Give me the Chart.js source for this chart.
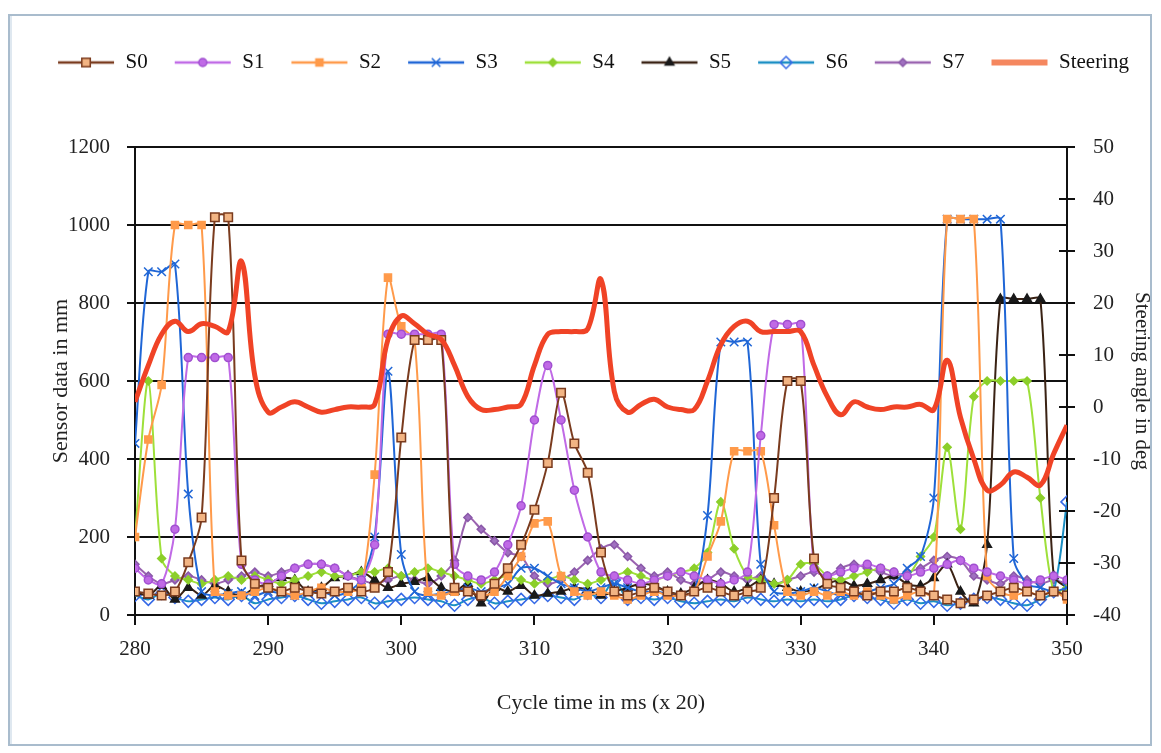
<!DOCTYPE html>
<html>
<head>
<meta charset="utf-8">
<script src="https://cdn.jsdelivr.net/npm/chart.js@4.4.0/dist/chart.umd.min.js"></script>
<style>
  html, body { margin: 0; padding: 0; background: #fff; }
  #wrap { position: relative; width: 1161px; height: 753px; }
  #frame { position: absolute; left: 8px; top: 14px; width: 1140px; height: 728px;
           border: 2px solid #a9bccd; box-shadow: inset 2px 0 0 #dfe8f0; }
  canvas { position: absolute; left: 0; top: 0; }
</style>
</head>
<body>
<div id="wrap">
  <div id="frame"></div>
  <canvas id="chart" width="1161" height="753"></canvas>
</div>
<script>
// cycle index (x 20 ms)
const cycles = [280,281,282,283,284,285,286,287,288,289,290,291,292,293,294,295,296,297,298,299,
  300,301,302,303,304,305,306,307,308,309,310,311,312,313,314,315,316,317,318,319,
  320,321,322,323,324,325,326,327,328,329,330,331,332,333,334,335,336,337,338,339,
  340,341,342,343,344,345,346,347,348,349,350];

const s0 = [60,55,50,60,135,250,1020,1020,140,80, 70,60,70,60,55,60,70,60,70,110,
  455,705,705,705,70,60,50,80,120,180, 270,390,570,440,365,160,60,50,60,70,
  60,50,60,70,60,50,60,70,300,600, 600,145,80,70,60,50,60,60,70,60,
  50,40,30,40,50,60,70,60,50,60, 50];
const s1 = [120,90,80,220,660,660,660,660,130,90, 80,100,120,130,130,120,100,90,180,720,
  720,720,720,720,130,100,90,110,180,280, 500,640,500,320,200,110,100,90,80,90,
  100,110,100,90,80,90,110,460,745,745, 745,120,100,110,120,130,120,110,100,110,
  120,130,140,120,110,100,90,80,90,100, 90];
const s2 = [200,450,590,1000,1000,1000,60,50,50,60, 70,60,50,60,70,60,60,70,360,865,
  740,705,60,50,60,60,50,60,100,150, 235,240,100,60,50,60,50,40,50,60,
  50,50,60,150,240,420,420,420,230,60, 50,60,50,60,50,60,50,40,50,60,
  50,1015,1015,1015,100,60,50,60,50,60, 40];
const s3 = [440,880,880,900,310,60,50,55,60,50, 60,55,50,55,60,50,60,90,200,625,
  155,60,50,55,60,70,60,70,80,120, 120,100,80,70,60,70,80,70,60,60,
  55,50,60,255,700,700,700,130,60,55, 60,70,60,50,55,60,70,80,120,150,
  300,1015,1015,1015,1015,1015,145,80,70,60, 70];
const s4 = [200,600,145,100,90,80,90,100,90,100, 90,80,90,100,110,100,100,110,110,120,
  100,110,120,110,100,90,80,90,100,90, 80,90,100,90,80,90,100,110,100,90,
  100,110,120,160,290,170,100,90,80,90, 130,130,100,90,100,110,120,110,100,150,
  200,430,220,560,600,600,600,600,300,60, 70];
const s5 = [60,50,75,40,70,50,75,60,50,70, 80,95,90,60,70,95,100,110,90,70,
  80,85,95,70,60,80,30,70,60,75, 50,55,60,70,65,50,60,70,80,75,
  60,55,70,90,80,60,70,90,80,70, 60,65,80,90,75,80,90,100,80,75,
  95,130,60,30,180,810,810,810,810,100, 70];
const s6 = [50,40,55,45,35,40,45,40,50,30, 40,45,50,40,30,35,40,45,30,35,
  40,45,40,35,25,40,45,30,35,40, 45,50,45,40,55,45,90,40,45,40,
  45,35,30,35,40,35,45,40,35,40, 35,40,35,40,50,45,40,30,40,30,
  35,25,30,40,45,40,30,25,40,60, 290];
const s7 = [130,100,80,90,100,90,80,90,100,110, 100,110,120,130,130,120,100,90,80,90,
  100,90,80,100,140,250,220,190,160,150, 100,80,90,110,140,170,180,150,120,100,
  110,90,80,90,110,100,90,100,80,90, 100,110,100,120,130,120,110,100,110,120,
  140,150,140,100,90,80,100,90,80,90, 80];
// steering angle in deg (right axis)
const steering = [1,8,14,16.5,14.5,16,15.5,14.5,28,6, -1,0,1,0,-1,-0.5,0,0,0.5,13,
  17.5,16,14,13,8,2,-0.5,-0.5,0,0.5, 8,14,14.5,14.5,15,24.5,3,-1,0.5,1.5,
  0,-0.5,-0.5,5,12,15.5,16.5,14.5,14.5,14.5, 14.5,8,2,-1.5,1,0,-0.5,0,0,0.5,
  -0.5,9,-2,-10,-16,-15,-12.5,-13.5,-15,-9, -3.5];

const serif = 'Liberation Serif, Times New Roman, serif';

function pts(arr) {
  return arr.map((v, i) => ({ x: cycles[i], y: v }));
}

function legendIcon(color, style, fill, stroke, radius) {
  const c = document.createElement('canvas');
  c.width = 58; c.height = 18;
  const ctx = c.getContext('2d');
  ctx.strokeStyle = color;
  ctx.lineWidth = style ? 2.5 : 6;
  ctx.beginPath(); ctx.moveTo(1, 9); ctx.lineTo(57, 9); ctx.stroke();
  if (style) {
    ctx.fillStyle = fill;
    ctx.strokeStyle = stroke;
    ctx.lineWidth = 1.5;
    Chart.helpers.drawPoint(ctx, { pointStyle: style, radius: radius, borderWidth: 1.5, rotation: 0 }, 29, 9);
  }
  return c;
}

function sensor(label, data, color, style, fill, stroke, radius) {
  return {
    label, data: pts(data), yAxisID: 'y',
    borderColor: color, backgroundColor: fill, borderWidth: 2,
    pointStyle: style, pointRadius: radius, pointBackgroundColor: fill,
    pointBorderColor: stroke, pointBorderWidth: 1.5,
    tension: 0.3, order: 1,
    legendIcon: legendIcon(color, style, fill, stroke, radius)
  };
}

const datasets = [
  sensor('S0', s0, '#7a3b1e', 'rect', '#f2b483', '#7a3b1e', 6),
  sensor('S1', s1, '#c06ae6', 'circle', '#c06ae6', '#a04fd0', 4),
  sensor('S2', s2, '#ff9a4a', 'rect', '#ff9a4a', '#ff9a4a', 5),
  sensor('S3', s3, '#1f66d6', 'crossRot', '#1f66d6', '#1f66d6', 6),
  sensor('S4', s4, '#9ee03a', 'rectRot', '#8ccf2a', '#8ccf2a', 4),
  sensor('S5', s5, '#3a2214', 'triangle', '#1a1a1a', '#1a1a1a', 5),
  sensor('S6', s6, '#1b8fc4', 'rectRot', 'rgba(255,255,255,0)', '#3569e6', 6),
  sensor('S7', s7, '#9a63b0', 'rectRot', '#a070c0', '#8a58a8', 4),
  {
    label: 'Steering', data: pts(steering), yAxisID: 'y2',
    borderColor: '#f04326', backgroundColor: '#f04326', borderWidth: 5,
    pointRadius: 0, tension: 0.4, order: 0,
    legendIcon: legendIcon('#f5875f', null)
  }
];

// tick marks on the right axis cross the axis line
const crossTicks = {
  id: 'crossTicks',
  afterDraw(chart) {
    const s = chart.scales.y2;
    const ctx = chart.ctx;
    ctx.save();
    ctx.strokeStyle = '#111';
    ctx.lineWidth = 2;
    s.ticks.forEach((t, i) => {
      const y = s.getPixelForTick(i);
      ctx.beginPath(); ctx.moveTo(s.left - 8, y); ctx.lineTo(s.left, y); ctx.stroke();
    });
    ctx.restore();
  }
};

const legendHeight = {
  id: 'legendHeight',
  beforeInit(chart) {
    const fit = chart.legend.fit;
    chart.legend.fit = function () {
      fit.bind(chart.legend)();
      this.height = 121;
    };
  }
};

new Chart(document.getElementById('chart'), {
  type: 'line',
  data: { datasets },
  plugins: [crossTicks, legendHeight],
  options: {
    responsive: false,
    animation: false,
    layout: { padding: { left: 30, right: 5, top: 26, bottom: 20 } },
    plugins: {
      tooltip: { enabled: false },
      legend: {
        position: 'top',
        labels: {
          usePointStyle: true,
          pointStyleWidth: 58,
          padding: 26,
          color: '#111',
          font: { family: serif, size: 21 },
          generateLabels(chart) {
            return chart.data.datasets.map((d, i) => ({
              text: d.label, pointStyle: d.legendIcon, datasetIndex: i,
              fontColor: '#111', lineWidth: 0, strokeStyle: 'transparent', fillStyle: 'transparent'
            }));
          }
        }
      }
    },
    scales: {
      x: {
        type: 'linear', min: 280, max: 350,
        afterFit: s => { s.height = 118; },
        ticks: { stepSize: 10, color: '#222', padding: 12, font: { family: serif, size: 21 } },
        grid: { drawOnChartArea: false, color: '#111', lineWidth: 2, tickLength: 10 },
        border: { color: '#111', width: 2 },
        title: { display: true, text: 'Cycle time in ms (x 20)', color: '#222',
                 font: { family: serif, size: 22 }, padding: { top: 0, bottom: 17 } }
      },
      y: {
        position: 'left', min: 0, max: 1200,
        afterFit: s => { s.width = 105; },
        ticks: { stepSize: 200, color: '#222', padding: 17, font: { family: serif, size: 21 },
                 callback: v => String(v) },
        grid: { color: '#111', lineWidth: 2, tickLength: 8 },
        border: { color: '#111', width: 2 },
        title: { display: true, text: 'Sensor data in mm', color: '#222',
                 font: { family: serif, size: 22 }, padding: { top: 18, bottom: 0 } }
      },
      y2: {
        position: 'right', min: -40, max: 50,
        afterFit: s => { s.width = 89; },
        ticks: { stepSize: 10, color: '#222', padding: 18, font: { family: serif, size: 21 } },
        grid: { drawOnChartArea: false, color: '#111', lineWidth: 2, tickLength: 8 },
        border: { color: '#111', width: 2 },
        title: { display: true, text: 'Steering angle in deg', color: '#222',
                 font: { family: serif, size: 21 }, padding: { top: 2, bottom: 0 } }
      }
    }
  }
});
</script>
</body>
</html>
